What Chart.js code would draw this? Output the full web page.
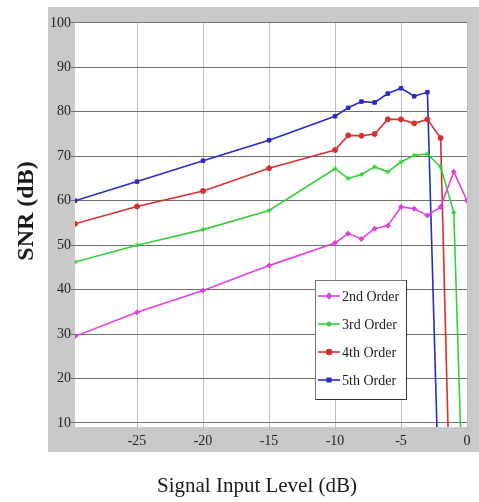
<!DOCTYPE html>
<html>
<head>
<meta charset="utf-8">
<script src="https://cdn.jsdelivr.net/npm/chart.js@4"></script>
<style>
  html, body { margin: 0; padding: 0; background: #ffffff; }
  #wrap { width: 479px; height: 502px; }
</style>
</head>
<body>
<div id="wrap"><canvas id="c" width="479" height="502"></canvas></div>
<script>
// ---- data ----
const xLevels = [-29.7, -25, -20, -15, -10, -9, -8, -7, -6, -5, -4, -3, -2, -1, 0];
const snr2nd  = [29.5, 34.9, 39.8, 45.4, 50.5, 52.6, 51.4, 53.7, 54.4, 58.6, 58.2, 56.7, 58.6, 66.5, 60.0];
const snr3rd  = [46.2, 50.0, 53.5, 57.8, 67.2, 65.0, 65.9, 67.6, 66.5, 68.7, 70.2, 70.5, 67.6, 57.4, -38];
const snr4th  = [54.8, 58.7, 62.2, 67.3, 71.4, 74.7, 74.6, 75.0, 78.3, 78.3, 77.4, 78.3, 74.1, -42, null];
const snr5th  = [60.0, 64.3, 69.0, 73.6, 79.0, 80.9, 82.3, 82.1, 84.1, 85.3, 83.5, 84.4, -20, null, null];
const seriesLabels = ['2nd Order', '3rd Order', '4th Order', '5th Order'];
const xTickValues = [-25, -20, -15, -10, -5, 0];
const yTickValues = [10, 20, 30, 40, 50, 60, 70, 80, 90, 100];
const xTitle = 'Signal Input Level (dB)';
const yTitle = 'SNR (dB)';

const serif = "'Liberation Serif', 'DejaVu Serif', serif";

function toPoints(arr) {
  const pts = [];
  arr.forEach((v, i) => { if (v !== null) pts.push({ x: xLevels[i], y: v }); });
  return pts;
}

const styles = [
  { color: '#e040e0', point: 'rectRot' },
  { color: '#38d038', point: 'star' },
  { color: '#d83030', point: 'circle' },
  { color: '#2a2ac8', point: 'rect' }
];
const allSeries = [snr2nd, snr3rd, snr4th, snr5th];

const datasets = allSeries.map((arr, k) => ({
  label: seriesLabels[k],
  data: toPoints(arr),
  borderColor: styles[k].color,
  backgroundColor: styles[k].color,
  pointBorderColor: styles[k].color,
  pointBackgroundColor: styles[k].color,
  pointStyle: styles[k].point,
  pointRadius: 2.5,
  pointBorderWidth: 1,
  borderWidth: 1.6,
  tension: 0,
  fill: false
}));

const framePlugin = {
  id: 'frame',
  beforeDraw(chart) {
    const ctx = chart.ctx, a = chart.chartArea;
    ctx.save();
    ctx.fillStyle = '#ffffff';
    ctx.fillRect(0, 0, chart.width, chart.height);
    ctx.fillStyle = '#c9c9c9';
    ctx.fillRect(48, 7, chart.width - 48, 445);
    ctx.fillStyle = '#ffffff';
    ctx.fillRect(a.left, a.top, a.right - a.left + 1, a.bottom - a.top);
    ctx.restore();
  },
  afterDraw(chart) {
    const ctx = chart.ctx;
    ctx.save();
    // axis titles
    ctx.fillStyle = '#1a1a1a';
    ctx.textAlign = 'center';
    ctx.textBaseline = 'middle';
    ctx.font = '21px ' + serif;
    ctx.fillText(xTitle, 257, 486);
    ctx.translate(27, 211);
    ctx.rotate(-Math.PI / 2);
    ctx.font = 'bold 24px ' + serif;
    ctx.fillText(yTitle, 0, 0);
    ctx.restore();

    // legend box
    ctx.save();
    const bx = 315, by = 280, bw = 91, bh = 119;
    ctx.fillStyle = '#ffffff';
    ctx.fillRect(bx, by, bw, bh);
    ctx.strokeStyle = '#777777';
    ctx.lineWidth = 1;
    ctx.strokeRect(bx + 0.5, by + 0.5, bw, bh);
    ctx.strokeStyle = '#333333';
    ctx.beginPath();
    ctx.moveTo(bx + 0.5, by + bh + 0.5);
    ctx.lineTo(bx + bw + 0.5, by + bh + 0.5);
    ctx.lineTo(bx + bw + 0.5, by + 0.5);
    ctx.stroke();
    chart.data.datasets.forEach((ds, i) => {
      const cy = 296 + i * 28;
      ctx.strokeStyle = ds.borderColor;
      ctx.lineWidth = 1.6;
      ctx.beginPath();
      ctx.moveTo(318, cy);
      ctx.lineTo(340, cy);
      ctx.stroke();
      ctx.fillStyle = ds.pointBackgroundColor;
      ctx.strokeStyle = ds.pointBorderColor;
      Chart.helpers.drawPoint(ctx, { pointStyle: ds.pointStyle, radius: 2.5, borderWidth: 1, rotation: 0 }, 329, cy);
      ctx.fillStyle = '#1a1a1a';
      ctx.font = '14px ' + serif;
      ctx.textAlign = 'left';
      ctx.textBaseline = 'middle';
      ctx.fillText(ds.label, 342, cy + 1);
    });
    ctx.restore();
  }
};

new Chart(document.getElementById('c'), {
  type: 'line',
  data: { datasets },
  plugins: [framePlugin],
  options: {
    responsive: false,
    animation: false,
    devicePixelRatio: 1,
    layout: { padding: { top: 22, right: 12, left: 0, bottom: 0 } },
    plugins: { legend: { display: false }, tooltip: { enabled: false } },
    scales: {
      x: {
        type: 'linear',
        min: -29.7,
        max: 0,
        afterBuildTicks: s => { s.ticks = xTickValues.map(v => ({ value: v })); },
        afterFit: s => { s.height = 75; },
        grid: { color: '#bdbdbd', lineWidth: 1, tickLength: 4, drawTicks: true },
        border: { display: false },
        ticks: {
          autoSkip: false, maxRotation: 0, padding: 2,
          color: '#222222', font: { family: serif, size: 14 },
          callback: v => String(v)
        }
      },
      y: {
        type: 'linear',
        min: 9.1,
        max: 100.2,
        afterBuildTicks: s => { s.ticks = yTickValues.map(v => ({ value: v })); },
        afterFit: s => { s.width = 75; },
        grid: { color: '#707070', lineWidth: 1, tickLength: 4, drawTicks: true },
        border: { display: false },
        ticks: {
          padding: 0,
          color: '#222222', font: { family: serif, size: 14 },
          callback: v => String(v)
        }
      }
    }
  }
});
</script>
</body>
</html>
